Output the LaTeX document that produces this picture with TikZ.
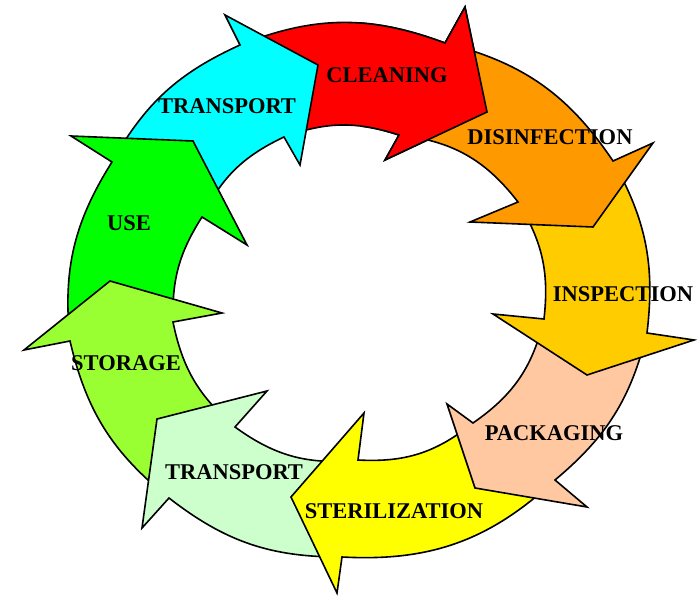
\documentclass[tikz,border=0pt]{standalone}
\usepackage{fontspec}
\setmainfont{Liberation Serif}
\definecolor{cCyan}{HTML}{00FFFF}
\definecolor{cRed}{HTML}{FF0000}
\definecolor{cOrange}{HTML}{FF9900}
\definecolor{cGold}{HTML}{FFCC00}
\definecolor{cPeach}{HTML}{FFC8A0}
\definecolor{cYellow}{HTML}{FFFF00}
\definecolor{cPale}{HTML}{CCFFCC}
\definecolor{cLime}{HTML}{99FF33}
\definecolor{cGreen}{HTML}{00FF00}
\begin{document}
\begin{tikzpicture}[x=1pt,y=-1pt,
  arr/.style={draw=black,line width=1.6pt,line join=miter},
  lab/.style={font=\bfseries\fontsize{22.5}{24}\selectfont,inner sep=0pt,text=black}]
\useasboundingbox (0,0) rectangle (697,596);
% a: TRANSPORT (top)
\coordinate (aWo) at (225,15);  \coordinate (aJo) at (240,45);  \coordinate (aT) at (318,65);
\coordinate (aWi) at (300,165); \coordinate (aJi) at (284,137);
% b: CLEANING
\coordinate (bWo) at (465,7);   \coordinate (bJo) at (445,43);  \coordinate (bT) at (487,112);
\coordinate (bWi) at (385,160); \coordinate (bJi) at (399,135);
% c: DISINFECTION
\coordinate (cWo) at (653,143); \coordinate (cJo) at (613,161); \coordinate (cT) at (593,227);
\coordinate (cWi) at (470,222); \coordinate (cJi) at (518,202);
% d: INSPECTION
\coordinate (dWo) at (694,340); \coordinate (dJo) at (647,333); \coordinate (dT) at (587,375);
\coordinate (dWi) at (493,314); \coordinate (dJi) at (544,319);
% e: PACKAGING
\coordinate (eWo) at (587,507); \coordinate (eJo) at (555,480); \coordinate (eT) at (475,488);
\coordinate (eWi) at (447,404); \coordinate (eJi) at (473,423);
% f: STERILIZATION
\coordinate (fWo) at (337,593); \coordinate (fJo) at (342,557); \coordinate (fT) at (291,497);
\coordinate (fWi) at (364,413); \coordinate (fJi) at (358,460);
% g: TRANSPORT (bottom)
\coordinate (gWo) at (142,528); \coordinate (gJo) at (169,498); \coordinate (gT) at (157,419);
\coordinate (gWi) at (267,391); \coordinate (gJi) at (235,427);
% h: STORAGE
\coordinate (hWo) at (24,350);  \coordinate (hJo) at (70,341);  \coordinate (hT) at (110,281);
\coordinate (hWi) at (222,313); \coordinate (hJi) at (173,322);
% i: USE
\coordinate (iWo) at (71,136);  \coordinate (iJo) at (112,162); \coordinate (iT) at (193,141);
\coordinate (iWi) at (247,245); \coordinate (iJi) at (202,217);

% CLEANING
\filldraw[arr,fill=cRed] (aJo) to[bend left=21] (bJo) -- (bWo) -- (bT) -- (bWi) -- (bJi) to[bend right=19] (aJi) -- cycle;
% TRANSPORT top
\filldraw[arr,fill=cCyan] (iJo) to[bend left=18] (aJo) -- (aWo) -- (aT) -- (aWi) -- (aJi) to[bend right=19] (iJi) -- cycle;
% USE
\filldraw[arr,fill=cGreen] (hJo) to[bend left=19] (iJo) -- (iWo) -- (iT) -- (iWi) -- (iJi) to[bend right=17] (hJi) -- cycle;
% STORAGE
\filldraw[arr,fill=cLime] (gJo) to[bend left=19] (hJo) -- (hWo) -- (hT) -- (hWi) -- (hJi) to[bend right=19] (gJi) -- cycle;
% TRANSPORT bottom
\filldraw[arr,fill=cPale] (fJo) to[bend left=19] (gJo) -- (gWo) -- (gT) -- (gWi) -- (gJi) to[bend right=21] (fJi) -- cycle;
% STERILIZATION
\filldraw[arr,fill=cYellow] (eJo) to[bend left=23] (fJo) -- (fWo) -- (fT) -- (fWi) -- (fJi) to[bend right=21] (eJi) -- cycle;
% PACKAGING
\filldraw[arr,fill=cPeach] (dJo) to[bend left=18] (eJo) -- (eWo) -- (eT) -- (eWi) -- (eJi) to[bend right=21] (dJi) -- cycle;
% INSPECTION
\filldraw[arr,fill=cGold] (cJo) to[bend left=18] (dJo) -- (dWo) -- (dT) -- (dWi) -- (dJi) to[bend right=19] (cJi) -- cycle;
% DISINFECTION
\filldraw[arr,fill=cOrange] (bJo) to[bend left=21] (cJo) -- (cWo) -- (cT) -- (cWi) -- (cJi) to[bend right=23] (bJi) -- cycle;
% CLEANING head again, on top of the DISINFECTION tail
\begin{scope}
\clip (360,0) rectangle (697,250);
\filldraw[arr,fill=cRed] (aJo) to[bend left=21] (bJo) -- (bWo) -- (bT) -- (bWi) -- (bJi) to[bend right=19] (aJi) -- cycle;
\end{scope}

\node[lab] (lTa) at (227,106) {TRANSPORT};
\node[lab] (lCl) at (387,75) {CLEANING};
\node[lab] (lDi) at (550,137) {DISINFECTION};
\node[lab] (lIn) at (623,294) {INSPECTION};
\node[lab] (lPa) at (554,433) {PACKAGING};
\node[lab] (lSt) at (394,511) {STERILIZATION};
\node[lab] (lTb) at (234,472) {TRANSPORT};
\node[lab] (lSo) at (126,363) {STORAGE};
\node[lab] (lUs) at (129,223) {USE};
\end{tikzpicture}
\end{document}
